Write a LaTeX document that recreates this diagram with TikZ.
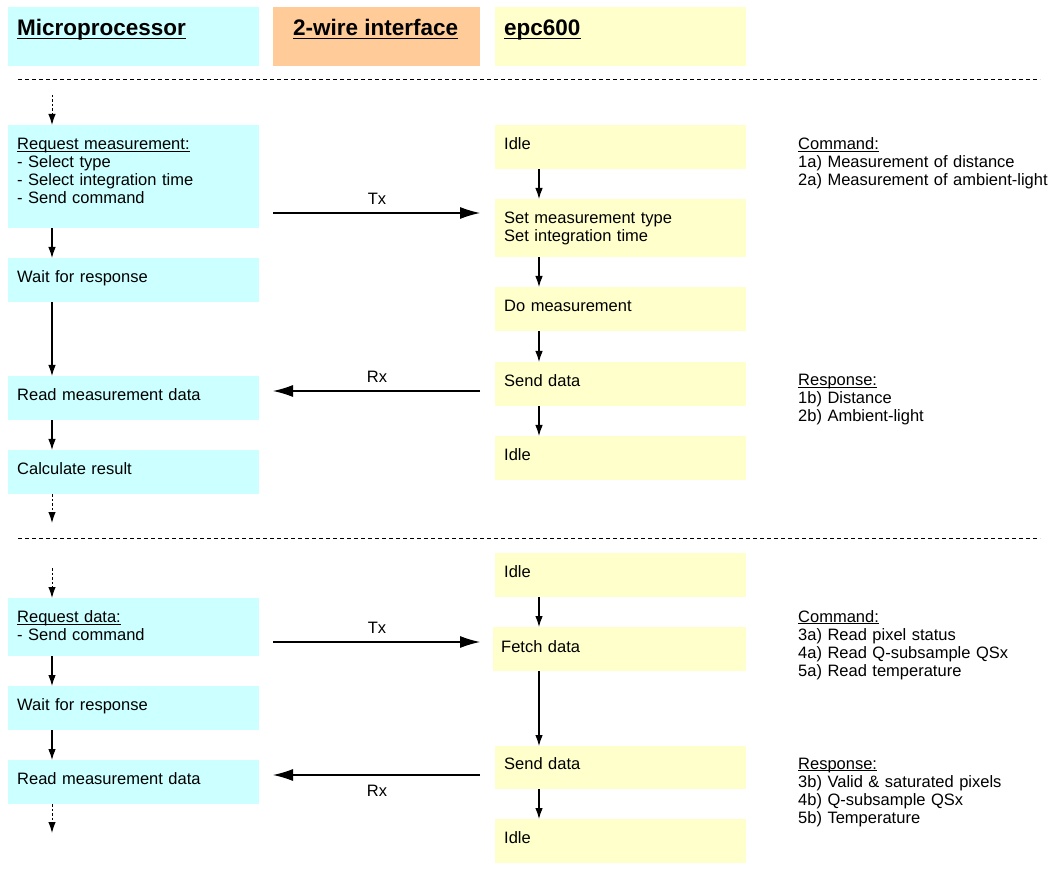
\documentclass[tikz,border=0pt]{standalone}
\usepackage{fontspec}
\setmainfont{Liberation Sans}
\usetikzlibrary{arrows.meta}
\definecolor{cyanc}{HTML}{CCFFFF}
\definecolor{orangec}{HTML}{FFCC99}
\definecolor{yellowc}{HTML}{FFFFCC}
\newcommand\hul[1]{\setbox0\hbox{#1}\rlap{\rule[-3pt]{\wd0}{1.4pt}}\box0}
\newcommand\tul[1]{\setbox0\hbox{#1}\rlap{\rule[-1.8pt]{\wd0}{0.8pt}}\box0}
\begin{document}
\begin{tikzpicture}[x=1pt,y=-1pt,
  box/.style={rectangle,inner sep=0pt,draw=none,anchor=north west,minimum width=251pt,minimum height=44pt},
  cbox/.style={box,fill=cyanc},
  ybox/.style={box,fill=yellowc},
  htxt/.style={anchor=base west,inner sep=0pt,font=\fontsize{22.5}{26}\selectfont\bfseries},
  txt/.style={anchor=base west,inner sep=0pt,text width=240pt,align=left,font=\fontsize{16.5}{18}\selectfont},
  ntxt/.style={txt,text width=320pt},
  lbl/.style={anchor=base,inner sep=0pt,font=\fontsize{16.5}{18}\selectfont},
  varr/.style={line width=1.1pt,-{Latex[length=11pt,width=7.5pt]}},
  harr/.style={line width=1.1pt,-{Latex[length=20pt,width=12pt]}},
  darr/.style={line width=1pt,dash pattern=on 2.5pt off 2pt,-{Latex[length=11pt,width=7.5pt]}},
  sep/.style={line width=1pt,dash pattern=on 4pt off 3pt}]
\useasboundingbox (0,0) rectangle (1050,874);

% header
\node[cbox,minimum height=59pt] (hm) at (8,7) {};
\node[box,fill=orangec,minimum width=207pt,minimum height=59pt] (hi) at (273,7) {};
\node[ybox,minimum height=59pt] (he) at (495,7) {};
\node[htxt] (thm) at (17,36) {\hul{Microprocessor}};
\node[htxt] (thi) at (293,36) {\hul{2-wire interface}};
\node[htxt] (the) at (504,36) {\hul{epc600}};

\draw[sep] (18,80) -- (1040,80);
\draw[sep] (18,538) -- (1040,538);

% section 1 - microprocessor
\node[cbox,minimum height=103pt] (rm) at (8,125) {};
\node[cbox] (wr) at (8,258) {};
\node[cbox] (rd) at (8,376) {};
\node[cbox] (cr) at (8,450) {};
\node[txt] (trm) at (17,150) {\tul{Request measurement:}\\- Select type\\- Select integration time\\- Send command};
\node[txt] (twr) at (17,283) {Wait for response};
\node[txt] (trd) at (17,400.5) {Read measurement data};
\node[txt] (tcr) at (17,474.5) {Calculate result};

% section 1 - epc600
\node[ybox] (i1) at (495,125) {};
\node[ybox,minimum height=58pt] (sm) at (495,199) {};
\node[ybox] (dm) at (495,287) {};
\node[ybox] (sd) at (495,362) {};
\node[ybox] (i2) at (495,436) {};
\node[txt] (ti1) at (504,149.5) {Idle};
\node[txt] (tsm) at (504,223.5) {Set measurement type\\Set integration time};
\node[txt] (tdm) at (504,311.5) {Do measurement};
\node[txt] (tsd) at (504,386.5) {Send data};
\node[txt] (ti2) at (504,460.5) {Idle};

\node[ntxt] (cmd1) at (798,150) {\tul{Command:}\\1a) Measurement of distance\\2a) Measurement of ambient-light};
\node[ntxt] (rsp1) at (798,386) {\tul{Response:}\\1b) Distance\\2b) Ambient-light};

% section 1 arrows
\coordinate (d1) at (52,95);
\coordinate (d2) at (52,523);
\draw[darr] (d1) -- ([xshift=44pt]rm.north west);
\draw[varr] ([xshift=44pt]rm.south west) -- ([xshift=44pt]wr.north west);
\draw[varr] ([xshift=44pt]wr.south west) -- ([xshift=44pt]rd.north west);
\draw[varr] ([xshift=44pt]rd.south west) -- ([xshift=44pt]cr.north west);
\draw[darr] ([xshift=44pt]cr.south west) -- (d2);

\draw[varr] ([xshift=44pt]i1.south west) -- ([xshift=44pt]sm.north west);
\draw[varr] ([xshift=44pt]sm.south west) -- ([xshift=44pt]dm.north west);
\draw[varr] ([xshift=44pt]dm.south west) -- ([xshift=44pt]sd.north west);
\draw[varr] ([xshift=44pt]sd.south west) -- ([xshift=44pt]i2.north west);

\coordinate (tx1a) at (273,213);
\coordinate (tx1b) at (480,213);
\draw[harr] (tx1a) -- (tx1b);
\node[lbl] (ltx1) at (377,205) {Tx};
\coordinate (rx1a) at (480,391);
\coordinate (rx1b) at (273,391);
\draw[harr] (rx1a) -- (rx1b);
\node[lbl] (lrx1) at (377,383) {Rx};

% section 2 - microprocessor
\node[cbox,minimum height=58pt] (rq) at (8,598) {};
\node[cbox] (wr2) at (8,686) {};
\node[cbox] (rd2) at (8,760) {};
\node[txt] (trq) at (17,622.5) {\tul{Request data:}\\- Send command};
\node[txt] (twr2) at (17,710.5) {Wait for response};
\node[txt] (trd2) at (17,784.5) {Read measurement data};

% section 2 - epc600
\node[ybox] (i3) at (495,553) {};
\node[ybox,minimum width=253pt] (fd) at (493,627) {};
\node[ybox,minimum height=43pt] (sd2) at (495,746) {};
\node[ybox] (i4) at (495,819) {};
\node[txt] (ti3) at (504,577.5) {Idle};
\node[txt] (tfd) at (501,652) {Fetch data};
\node[txt] (tsd2) at (504,769) {Send data};
\node[txt] (ti4) at (504,843) {Idle};

\node[ntxt] (cmd2) at (798,622) {\tul{Command:}\\3a) Read pixel status\\4a) Read Q-subsample QSx\\5a) Read temperature};
\node[ntxt] (rsp2) at (798,769) {\tul{Response:}\\3b) Valid \& saturated pixels\\4b) Q-subsample QSx\\5b) Temperature};

% section 2 arrows
\coordinate (d3) at (52,568);
\coordinate (d4) at (52,833);
\draw[darr] (d3) -- ([xshift=44pt]rq.north west);
\draw[varr] ([xshift=44pt]rq.south west) -- ([xshift=44pt]wr2.north west);
\draw[varr] ([xshift=44pt]wr2.south west) -- ([xshift=44pt]rd2.north west);
\draw[darr] ([xshift=44pt]rd2.south west) -- (d4);

\draw[varr] ([xshift=44pt]i3.south west) -- ([xshift=44pt]i3.south west |- fd.north);
\draw[varr] ([xshift=44pt]i3.south west |- fd.south) -- ([xshift=44pt]sd2.north west);
\draw[varr] ([xshift=44pt]sd2.south west) -- ([xshift=44pt]i4.north west);

\coordinate (tx2a) at (273,642);
\coordinate (tx2b) at (480,642);
\draw[harr] (tx2a) -- (tx2b);
\node[lbl] (ltx2) at (377,633) {Tx};
\coordinate (rx2a) at (480,775);
\coordinate (rx2b) at (273,775);
\draw[harr] (rx2a) -- (rx2b);
\node[lbl] (lrx2) at (377,796) {Rx};
\end{tikzpicture}
\end{document}
